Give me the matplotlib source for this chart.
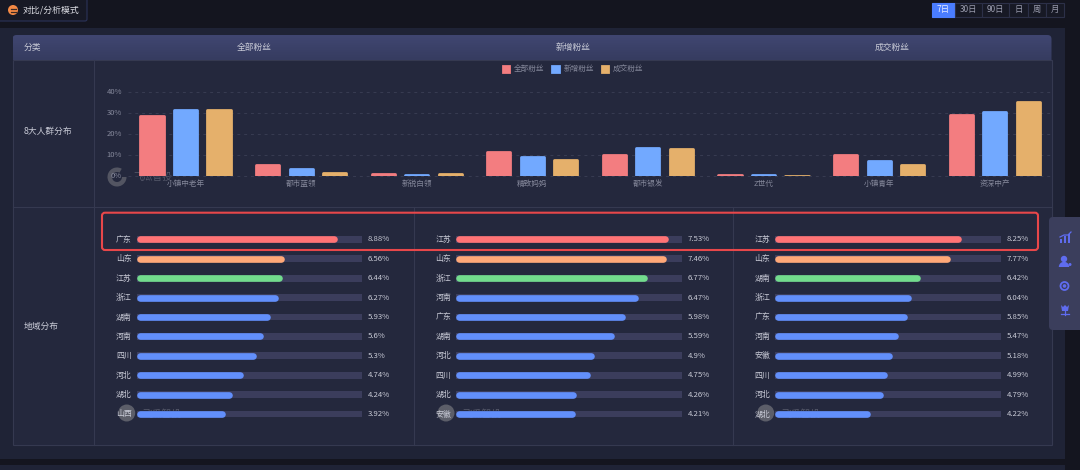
import numpy as np
import matplotlib
matplotlib.use('Agg')
import matplotlib.pyplot as plt
from matplotlib.colors import LinearSegmentedColormap
from matplotlib.patches import Rectangle, FancyBboxPatch, Circle, Wedge, Polygon

plt.rcParams['font.family'] = ['Noto Sans CJK SC', 'DejaVu Sans']

# 8大人群分布
groups = ['小镇中老年', '都市蓝领', '新锐白领', '精致妈妈', '都市银发', 'Z世代', '小镇青年', '资深中产']
series_names = ['全部粉丝', '新增粉丝', '成交粉丝']
all_fans = [29.1, 5.9, 1.4, 11.8, 10.6, 0.9, 10.7, 29.8]
new_fans = [32.0, 3.8, 1.1, 9.4, 13.9, 0.8, 7.8, 31.4]
deal_fans = [32.3, 2.1, 1.3, 8.3, 13.6, 0.5, 5.8, 36.0]
y_ticks = [0, 10, 20, 30, 40]

# 地域分布
prov_all = ['广东', '山东', '江苏', '浙江', '湖南', '河南', '四川', '河北', '湖北', '山西']
vals_all = [8.88, 6.56, 6.44, 6.27, 5.93, 5.6, 5.3, 4.74, 4.24, 3.92]
prov_new = ['江苏', '山东', '浙江', '河南', '广东', '湖南', '河北', '四川', '湖北', '安徽']
vals_new = [7.53, 7.46, 6.77, 6.47, 5.98, 5.59, 4.9, 4.75, 4.26, 4.21]
prov_deal = ['江苏', '山东', '湖南', '浙江', '广东', '河南', '安徽', '四川', '河北', '湖北']
vals_deal = [8.25, 7.77, 6.42, 6.04, 5.85, 5.47, 5.18, 4.99, 4.79, 4.22]
axis_max = [10, 8, 10]

range_btns = ['7日', '30日', '90日', '日', '周', '月']
btn_edges = [932, 955, 982, 1009, 1028, 1046, 1064]

W, H = 1080, 470
BORDER = '#353950'
TXT = '#c8cad6'
TXT2 = '#85889b'
SERIES_COL = ['#f37d80', '#72a9ff', '#e5b06b']
ROW_COL = ['#ff7375', '#ffa878', '#72dc8d'] + ['#628ffb'] * 7


def px_axes(x0, y0, x1, y1):
    a = fig.add_axes([x0 / W, 1 - y1 / H, (x1 - x0) / W, (y1 - y0) / H])
    a.patch.set_alpha(0)
    for s in a.spines.values():
        s.set_visible(False)
    return a


fig = plt.figure(figsize=(10.8, 4.7), dpi=100, facecolor='#14151f')

# background, in pixels
bg = fig.add_axes([0, 0, 1, 1])
bg.axis('off')
bg.add_patch(Rectangle((0, 28), 1065, 431, fc='#1f2336', ec='none'))
bg.add_patch(Rectangle((0, 465), 1065, 10, fc='#1f2336', ec='none'))
bg.add_patch(Rectangle((12.5, 60), 1039, 385, fc='#24283d', ec=BORDER, lw=0.8))
for x in [93.5, 413.7, 732.7]:
    y0 = 60 if x == 93.5 else 207
    bg.plot([x, x], [y0, 445], color=BORDER, lw=0.8)
bg.plot([12.5, 1051.5], [207, 207], color=BORDER, lw=0.8)

# table header with gradient
hdr_clip = FancyBboxPatch((12.5, 35), 1039, 40, boxstyle='round,pad=0,rounding_size=4',
                          fc='none', ec='none')
bg.add_patch(hdr_clip)
grad = np.linspace(0, 1, 30).reshape(-1, 1)
im = bg.imshow(grad, extent=(12.5, 1051.5, 60, 35), aspect='auto', origin='upper', zorder=1.5,
               cmap=LinearSegmentedColormap.from_list('h', ['#404671', '#363c60']))
im.set_clip_path(hdr_clip)
bg.set_xlim(0, W)
bg.set_ylim(H, 0)
bg.text(23.5, 47.5, '分类', color=TXT, fontsize=6.3, va='center', zorder=3)
for x, s in zip([254, 573, 892], series_names):
    bg.text(x, 47.5, s, color=TXT, fontsize=6.3, va='center', ha='center', zorder=3)
bg.text(24, 131, '8大人群分布', color=TXT, fontsize=6.3, va='center')
bg.text(24, 326.7, '地域分布', color=TXT, fontsize=6.3, va='center')

# top tab
bg.add_patch(FancyBboxPatch((-5, -5), 92, 26, boxstyle='round,pad=0,rounding_size=2',
                            fc='#171925', ec='#2b3359', lw=0.8))
bg.add_patch(Circle((13, 10), 5, fc='#f58a45', ec='none'))
bg.plot([10.5, 15.5], [8.5, 8.5], color='#3a2a25', lw=0.9)
bg.plot([10.5, 15.5], [11.5, 11.5], color='#3a2a25', lw=0.9)
bg.text(23, 9.8, '对比/分析模式', color='#dcdde4', fontsize=6.4, va='center')

# range buttons
for i, s in enumerate(range_btns):
    x0, x1 = btn_edges[i], btn_edges[i + 1]
    bg.add_patch(Rectangle((x0, 2.5), x1 - x0, 14, fc='#4a7dff' if i == 0 else '#171925',
                           ec='#4a7dff' if i == 0 else '#2c3048', lw=0.8))
    bg.text((x0 + x1) / 2, 9.5, s, color='#e8ecff' if i == 0 else '#9a9cae', fontsize=6,
            va='center', ha='center')

# side panel with icons
bg.add_patch(FancyBboxPatch((1049, 217), 40, 113, boxstyle='round,pad=0,rounding_size=4',
                            fc='#3b3e5c', ec='none'))
ICON = '#5f6cf0'
for x, h in zip([1061, 1065, 1069], [4, 7, 9]):
    bg.add_patch(Rectangle((x - 1.2, 243 - h), 2.4, h, fc=ICON, ec='none'))
bg.plot([1060, 1064, 1068, 1071], [237, 235, 235, 232], color=ICON, lw=0.9)
bg.add_patch(Circle((1064, 259), 3.2, fc=ICON, ec='none'))
bg.add_patch(Wedge((1064, 267), 5.2, 180, 360, fc=ICON, ec='none'))
bg.add_patch(Circle((1070, 264.5), 1.5, fc=ICON, ec='none'))
bg.add_patch(Circle((1064.5, 286), 4, fc='#3b3e5c', ec=ICON, lw=1.3))
bg.add_patch(Circle((1064.5, 286), 1.8, fc=ICON, ec='none'))
bg.add_patch(Polygon([(1061, 305), (1063, 307), (1065, 305), (1067, 307), (1069, 305),
                      (1068, 311), (1062, 311)], fc=ICON, ec='none'))
bg.plot([1065, 1065], [311, 315], color=ICON, lw=0.9)
bg.plot([1061, 1069], [314, 314], color=ICON, lw=0.9)

# watermarks
bg.add_patch(Wedge((117, 177), 9.5, 0, 300, width=4.5, fc='#5c5e69', ec='none', alpha=0.85))
bg.text(133, 177, '飞瓜智投', color='#55586a', fontsize=7, va='center')
for x in [126.7, 446, 765.7]:
    bg.add_patch(Circle((x, 413), 8.5, fc='#5c5e69', ec='none'))
    bg.text(x + 16, 414, '飞瓜智投', color='#55586a', fontsize=7, va='center')

# grouped bars, the round stroke adds 0.67 units on top so start below zero
ax = px_axes(127.7, 92.3, 1052.5, 175.5)
ax.set_xlim(-0.5, 7.5)
ax.set_ylim(0, 40)
pos = np.arange(len(groups))
for i, (vals, name) in enumerate(zip([all_fans, new_fans, deal_fans], series_names)):
    ax.bar(pos + (i - 1) * 0.29, vals, width=0.2, bottom=-0.67, color=SERIES_COL[i],
           edgecolor=SERIES_COL[i], linewidth=2, joinstyle='round', label=name, zorder=3)
ax.set_xticks(pos, groups)
ax.set_yticks(y_ticks, ['%d%%' % v for v in y_ticks], va='center')
ax.tick_params(axis='both', length=0, labelsize=5.5, labelcolor=TXT2)
ax.tick_params(axis='x', pad=3.5)
ax.tick_params(axis='y', pad=4)
ax.grid(axis='y', color='#383c52', lw=0.7, ls=(0, (3, 4)))
ax.set_axisbelow(True)
for g in ax.get_ygridlines():
    g.set_clip_on(False)
fig.legend(*ax.get_legend_handles_labels(), ncol=3, frameon=False, loc='center',
           bbox_to_anchor=(573 / W, 1 - 69.3 / H), fontsize=5.5, labelcolor=TXT2,
           handlelength=0.81, handleheight=0.81, handletextpad=0.61, columnspacing=1.1,
           borderpad=0)

# region bars
cols = [(136.7, 362.3, prov_all, vals_all), (456, 682, prov_new, vals_new), (775, 1001, prov_deal, vals_deal)]
for (x0, x1, names, vals), vmax in zip(cols, axis_max):
    a = px_axes(x0, 229.6, x1, 423.7)
    a.set_xlim(0, vmax)
    a.set_ylim(9.5, -0.5)
    y = np.arange(len(names))
    a.barh(y, [vmax] * len(y), height=0.35, color='#3b3d5c', zorder=1)
    r = 3.3 / (x1 - x0) * vmax
    a.hlines(y, r, np.array(vals) - r, colors=ROW_COL, linewidth=4.8, capstyle='round', zorder=2)
    a.set_yticks(y, names, va='center')
    a.set_xticks([])
    a.tick_params(axis='y', length=0, labelsize=5.7, labelcolor=TXT, pad=3.5)
    for yy, v in zip(y, vals):
        a.annotate('%g%%' % v, xy=(vmax, yy), xytext=(4, 0), textcoords='offset points',
                   color=TXT, fontsize=5.6, va='center', annotation_clip=False)

# red highlight box, above everything
top = px_axes(0, 0, W, H)
top.set_xlim(0, W)
top.set_ylim(H, 0)
top.axis('off')
top.add_patch(FancyBboxPatch((102, 212.7), 936, 37.3, boxstyle='round,pad=0,rounding_size=3',
                             fc='none', ec='#e8474a', lw=1.5))

fig.savefig('out.png', dpi=100, facecolor=fig.get_facecolor())
